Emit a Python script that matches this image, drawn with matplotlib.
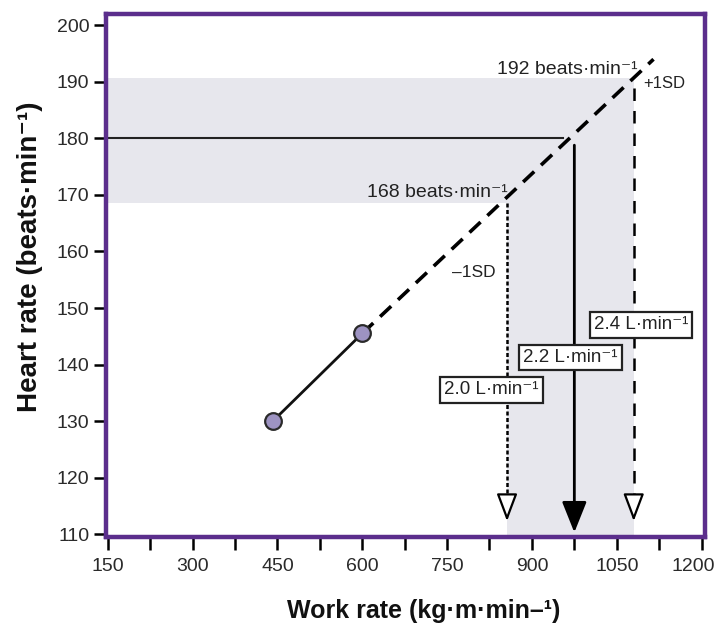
import matplotlib
matplotlib.use("Agg")
import matplotlib.pyplot as plt
import matplotlib.transforms as mtransforms
import numpy as np

plt.rcParams['font.family'] = ['Liberation Sans', 'DejaVu Sans']

# Measured submaximal points
work_rate = [442, 600]          # kg·m·min-1
heart_rate = [130, 145.5]       # beats·min-1

# Extrapolated line
extrap_wr = [600, 1115]
extrap_hr = [145.5, 194]

# Predicted max HR and +/- 1SD
hr_max = 180
hr_sd = [168.5, 190.7]          # shaded band limits
vo2_wr = [856, 975, 1080]       # work rates for -1SD, mean, +1SD
vo2_labels = ['2.0 L·min⁻¹', '2.2 L·min⁻¹', '2.4 L·min⁻¹']

xlim = (147, 1206)
ylim = (109.5, 202)

purple = '#5b2e8c'
shade = '#e7e7ed'

fig = plt.figure(figsize=(7.18, 6.25), dpi=100)
ax = fig.add_axes([106/718, 88/625, 599/718, 523/625])

# shaded L-shaped band
ax.fill_between([xlim[0], vo2_wr[2]], hr_sd[0], hr_sd[1], color=shade, lw=0, zorder=0)
ax.fill_betweenx([ylim[0], hr_sd[0]], vo2_wr[0], vo2_wr[2], color=shade, lw=0, zorder=0)

# horizontal line at predicted max HR
ax.plot([xlim[0], 955], [hr_max, hr_max], color='#222222', lw=1.5, zorder=2)

# extrapolation (dashed) and measured segment
ax.plot(extrap_wr, extrap_hr, color='black', lw=2.6, linestyle=(0, (4.2, 2.6)), zorder=2)
ax.plot(work_rate, heart_rate, color='#111111', lw=2, zorder=3)
ax.plot(work_rate, heart_rate, 'o', ms=12, mfc='#9d93c2', mec='#2a2a2a', mew=1.6, zorder=4)

# vertical lines down to the x axis
ax.plot([vo2_wr[0], vo2_wr[0]], [hr_sd[0], 114], color='black', lw=1.8,
        linestyle=(0, (1.6, 1.0)), zorder=2)
ax.plot([vo2_wr[2], vo2_wr[2]], [189, 114], color='black', lw=1.8,
        linestyle=(0, (5, 4)), zorder=2)
for x in [vo2_wr[0], vo2_wr[2]]:
    ax.annotate('', xy=(x, 112.3), xytext=(x, 116),
                arrowprops=dict(arrowstyle='-|>,head_length=0.85,head_width=0.32',
                                mutation_scale=20, fc='white', ec='black', lw=1.6,
                                shrinkA=0, shrinkB=0), zorder=5)
ax.annotate('', xy=(vo2_wr[1], 110.3), xytext=(vo2_wr[1], 178.8),
            arrowprops=dict(arrowstyle='-|>,head_length=0.95,head_width=0.38',
                            mutation_scale=20, fc='black', ec='black', lw=2,
                            shrinkA=0, shrinkB=0), zorder=5)

# text annotations
ax.text(1086, 191.3, '192 beats·min⁻¹', ha='right', va='baseline', fontsize=14, color='#222222')
ax.text(1096, 188.9, '+1SD', ha='left', va='baseline', fontsize=12, color='#222222')
ax.text(857, 169.6, '168 beats·min⁻¹', ha='right', va='baseline', fontsize=14, color='#222222')
ax.text(835, 155.4, '–1SD', ha='right', va='baseline', fontsize=12.5, color='#222222')

box_pos = [(828, 135.5), (968, 141.3), (1093, 147)]
for (bx, by), lab in zip(box_pos, vo2_labels):
    ax.text(bx, by, lab, ha='center', va='center', fontsize=13.5, color='#222222', zorder=6,
            bbox=dict(boxstyle='square,pad=0.22', fc='white', ec='#222222', lw=1.6))

ax.set_xlim(*xlim)
ax.set_ylim(*ylim)
ax.set_xticks(np.arange(150, 1201, 150))
ax.set_xticks(np.arange(225, 1200, 150), minor=True)
ax.set_yticks(np.arange(110, 201, 10))

for s in ax.spines.values():
    s.set_color(purple)
    s.set_linewidth(3.2)

ax.tick_params(axis='both', which='both', direction='out', color='black', width=1.8,
               labelsize=14, labelcolor='#2a2a2a')
ax.tick_params(axis='x', which='both', length=9, pad=6)
ax.tick_params(axis='y', length=9, pad=3)

# nudge the last x tick label so it stays inside the figure
last = ax.get_xticklabels()[-1]
last.set_transform(last.get_transform() + mtransforms.ScaledTranslation(-8/100, 0, fig.dpi_scale_trans))

ax.set_xlabel('Work rate (kg·m·min–¹)', fontsize=18, fontweight='bold', color='#111111')
ax.set_ylabel('Heart rate (beats·min⁻¹)', fontsize=20, fontweight='bold', color='#111111')
ax.xaxis.set_label_coords(0.531, -0.118)
ax.yaxis.set_label_coords(-0.106, 0.535)

plt.savefig('out.png', dpi=100)
